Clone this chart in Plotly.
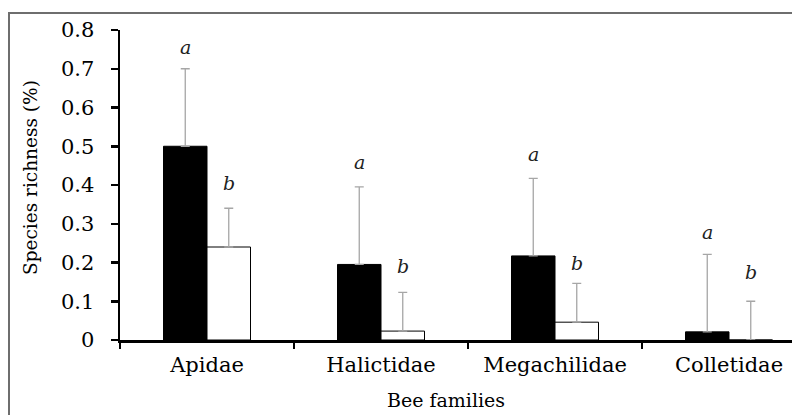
import plotly.graph_objects as go

families = ["Apidae", "Halictidae", "Megachilidae", "Colletidae"]
group1_values = [0.50, 0.195, 0.217, 0.021]
group1_err = [0.20, 0.20, 0.20, 0.20]
group2_values = [0.24, 0.023, 0.046, 0.0]
group2_err = [0.10, 0.10, 0.10, 0.10]
group1_letters = ["a", "a", "a", "a"]
group2_letters = ["b", "b", "b", "b"]
group1_letter_y = [0.756, 0.46, 0.48, 0.28]
group2_letter_y = [0.405, 0.19, 0.20, 0.175]
y_ticks = [0, 0.1, 0.2, 0.3, 0.4, 0.5, 0.6, 0.7, 0.8]
y_ticklabels = ["0", "0.1", "0.2", "0.3", "0.4", "0.5", "0.6", "0.7", "0.8"]

W, H = 792, 415
ML, MR, MT, MB = 120, 0, 30, 75
pw = W - ML - MR
ph = H - MT - MB
cat_px = 174.0
x_right = -0.5 + pw / cat_px

serif = "DejaVu Serif, Liberation Serif, serif"
err_color = "#a6a6a6"

fig = go.Figure()
fig.add_trace(go.Bar(
    x=families, y=group1_values, name="Group 1",
    marker=dict(color="black", line=dict(color="black", width=1)),
    error_y=dict(type="data", array=group1_err, arrayminus=[0] * 4, symmetric=False,
                 color=err_color, thickness=1.3, width=4.5),
))
fig.add_trace(go.Bar(
    x=families, y=group2_values, name="Group 2",
    marker=dict(color="white", line=dict(color="black", width=1)),
    error_y=dict(type="data", array=group2_err, arrayminus=[0] * 4, symmetric=False,
                 color=err_color, thickness=1.3, width=4.5),
))

shift = 0.125 * cat_px
letter_font = dict(family=serif, size=19, color="#222")
annotations = []
for fam, lt, ly in zip(families, group1_letters, group1_letter_y):
    annotations.append(dict(x=fam, y=ly, xref="x", yref="y", text="<i>" + lt + "</i>",
                            showarrow=False, xshift=-shift, font=letter_font, yanchor="middle"))
for fam, lt, ly in zip(families, group2_letters, group2_letter_y):
    annotations.append(dict(x=fam, y=ly, xref="x", yref="y", text="<i>" + lt + "</i>",
                            showarrow=False, xshift=shift, font=letter_font, yanchor="middle"))
annotations.append(dict(x=(446 - ML) / pw, y=-(400 - MT - ph) / ph, xref="paper", yref="paper",
                        text="Bee families", showarrow=False,
                        font=dict(family=serif, size=19, color="black"),
                        xanchor="center", yanchor="middle"))
annotations.append(dict(x=(30 - ML) / pw, y=1 - (178 - MT) / ph, xref="paper", yref="paper",
                        text="Species richness (%)", showarrow=False, textangle=-90,
                        font=dict(family=serif, size=18.5, color="black"),
                        xanchor="center", yanchor="middle"))

fig.update_layout(
    width=W, height=H,
    margin=dict(l=ML, r=MR, t=MT, b=MB),
    paper_bgcolor="white", plot_bgcolor="white",
    barmode="group", bargap=0.5, bargroupgap=0,
    showlegend=False,
    annotations=annotations,
    shapes=[dict(type="rect", xref="paper", yref="paper",
                 x0=(9 - ML) / pw, x1=1.2, y0=-0.4, y1=1 + (MT - 13) / ph,
                 line=dict(color="#6e6e6e", width=2), fillcolor="rgba(0,0,0,0)", layer="below")],
    font=dict(family=serif, size=20, color="black"),
)
fig.update_xaxes(
    type="category", range=[-0.5, x_right],
    showline=True, linecolor="black", linewidth=2.5,
    ticks="outside", tickson="boundaries", ticklen=6, tickwidth=2.5, tickcolor="black",
    tickfont=dict(family=serif, size=21, color="black"),
    showgrid=False, zeroline=False, ticklabelstandoff=4,
)
fig.update_yaxes(
    range=[0, 0.8], tickvals=y_ticks, ticktext=y_ticklabels,
    showline=True, linecolor="black", linewidth=2.5,
    ticks="outside", ticklen=7, tickwidth=2.5, tickcolor="black",
    tickfont=dict(family=serif, size=21, color="black"),
    showgrid=False, zeroline=False, ticklabelstandoff=12,
)

fig.write_html("out.html",
               config={"displayModeBar": False, "staticPlot": True},
               post_script="document.body.style.margin='0';document.body.style.overflow='hidden';")
